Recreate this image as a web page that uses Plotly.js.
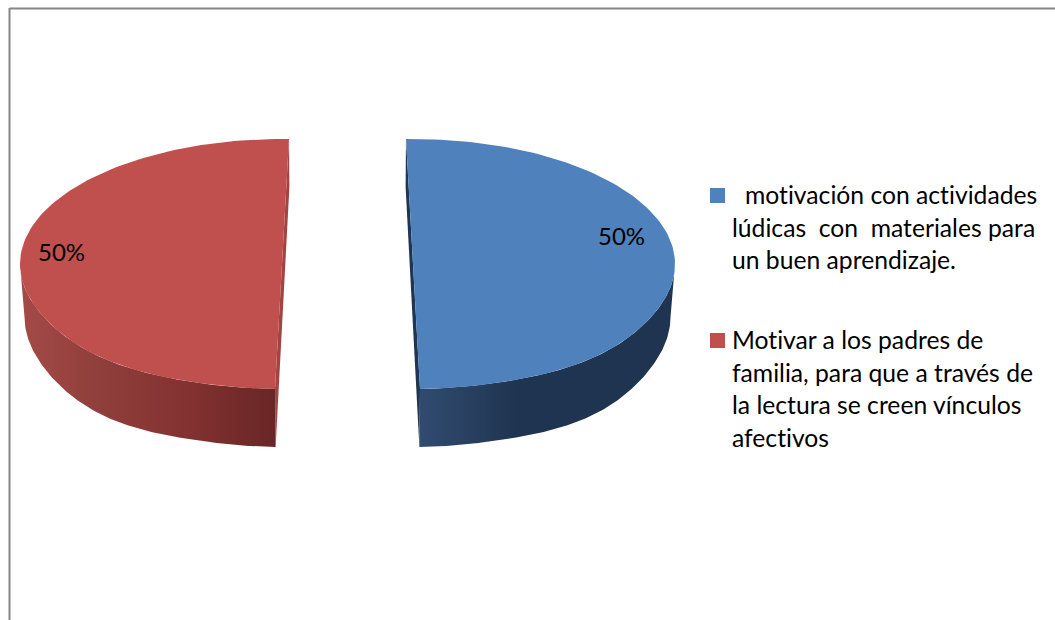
<!DOCTYPE html>
<html>
<head>
<meta charset="utf-8">
<script src="https://cdn.plot.ly/plotly-3.0.1.min.js"></script>
<style>html,body{margin:0;padding:0;background:#fff}#c{width:1055px;height:620px}
text{font-variant-ligatures:none;font-feature-settings:"liga" 0,"clig" 0}</style>
</head>
<body>
<div id="c"></div>
<script>
const categories = ['motivación con actividades lúdicas con materiales para un buen aprendizaje.',
                    'Motivar a los padres de familia, para que a través de la lectura se creen vínculos afectivos'];
const values = [50, 50];
const topColors = ['#4f81bd', '#c0504d'];
const cutColors = ['#1f3552', '#a24441'];
const wallScales = [
  [[0, '#2f4b6f'], [0.16, '#2a4263'], [0.38, '#1f3450'], [1, '#1f3450']],
  [[0, '#a44a47'], [0.3, '#903f3c'], [0.62, '#853332'], [1, '#682625']]
];
const legendLines = [
  ['motivación con actividades', 'lúdicas\u00a0 con\u00a0 materiales para', 'un buen aprendizaje.'],
  ['Motivar a los padres de', 'familia, para que a través de', 'la lectura se creen vínculos', 'afectivos']
];

const total = values.reduce((a, b) => a + b, 0);
const FONT = 'Lato, Carlito, sans-serif';
const FS = 24.7, PCT_FS = 24;
const rad = d => d * Math.PI / 180;
const tilt = 1.53;
const centres = [413, 282];
const top_ = {cy: 264, rx: 262, ry: 125, bulge: 3};
const low = {cy: 317, rx: 258, ry: 130, bulge: 5};
const lowShift = [-0.5, 0.5];

function arc(cx, e, a, b) {
  const xs = [], ys = [], n = 120;
  for (let i = 0; i <= n; i++) {
    const t = rad(a + (b - a) * i / n);
    const c = Math.cos(t), s2 = Math.pow(Math.sin(2 * t), 4);
    xs.push(cx + e.rx * Math.sin(t));
    ys.push(e.cy - e.ry * c + (c < 0 ? e.bulge * s2 : 0));
  }
  return [xs, ys];
}
function poly(x, y, color, name, extra) {
  return Object.assign({type: 'scatter', mode: 'lines', x, y, fill: 'toself', fillcolor: color,
    line: {width: 0, color: color}, name, showlegend: false, hoverinfo: 'skip'}, extra || {});
}

const traces = [], annotations = [];
let start = -tilt;
values.forEach((v, i) => {
  const span = v / total * 360;
  const end = start + span;
  const cx = centres[i], lx = cx + lowShift[i];
  const [tx, ty] = arc(cx, top_, start, end);
  // cut face
  const sA = i === 0 ? start : end, eA = i === 0 ? end : start;
  const [ax, ay] = arc(cx, top_, sA, eA);
  const [bx, by] = arc(lx, low, sA, eA);
  traces.push(poly([ax[0], bx[0], bx[120], ax[120], ax[0]], [ay[0], by[0], by[120], ay[120], ay[0]], cutColors[i], categories[i] + ' (corte)'));
  // outer wall: the visible front part of the rim
  const wa = i === 0 ? 90 : start, wb = i === 0 ? end : 270;
  const [ux, uy] = arc(cx, top_, wa, wb);
  const [dx, dy] = arc(lx, low, wa, wb);
  traces.push(poly(ux.concat(dx.slice().reverse()), uy.concat(dy.slice().reverse()), cutColors[i], categories[i] + ' (pared)',
    {fillgradient: {type: 'horizontal', colorscale: wallScales[i]}}));
  // top surface
  traces.push(poly(tx, ty, topColors[i], categories[i]));
  start = end + 2 * tilt;
});

// percent labels
const labelPos = [[621, 235], [61, 251]];
values.forEach((v, i) => {
  annotations.push({x: labelPos[i][0], y: labelPos[i][1], xref: 'x', yref: 'y', showarrow: false,
    text: Math.round(v / total * 100) + '%', font: {family: FONT, size: PCT_FS, color: '#000'}, xanchor: 'center', yanchor: 'middle'});
});

// legend block
const markerY = [195.5, 340.5];
const lineY = [[194, 227, 259], [339, 372, 404, 437]];
const firstX = [745, 732];
legendLines.forEach((lines, i) => {
  traces.push({type: 'scatter', mode: 'markers', x: [717.5], y: [markerY[i]], showlegend: false, hoverinfo: 'skip',
    marker: {symbol: 'square', size: 15, color: topColors[i], line: {width: 0}}, name: categories[i]});
  lines.forEach((t, j) => {
    annotations.push({x: j === 0 ? firstX[i] : 732, y: lineY[i][j], xref: 'x', yref: 'y', showarrow: false,
      text: t, font: {family: FONT, size: FS, color: '#000'}, xanchor: 'left', yanchor: 'middle', xshift: -2});
  });
});

const frame = [
  {type: 'line', x0: 9.5, x1: 1055, y0: 8.5, y1: 8.5, line: {color: '#868686', width: 2}},
  {type: 'line', x0: 9.5, x1: 9.5, y0: 8, y1: 620, line: {color: '#868686', width: 2}}
];

Plotly.newPlot('c', traces, {
  width: 1055, height: 620, margin: {l: 0, r: 0, t: 0, b: 0},
  paper_bgcolor: '#fff', plot_bgcolor: '#fff', showlegend: false,
  xaxis: {range: [0, 1055], visible: false, fixedrange: true},
  yaxis: {range: [620, 0], visible: false, fixedrange: true},
  shapes: frame, annotations
}, {displayModeBar: false, staticPlot: true});
</script>
</body>
</html>
